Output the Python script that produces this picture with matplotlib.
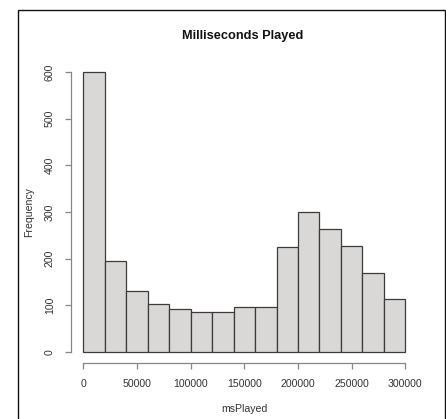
import matplotlib
matplotlib.use("Agg")
import matplotlib.pyplot as plt
from matplotlib.patches import Rectangle

# histogram of msPlayed, 20000 ms bins
bin_edges = [0, 20000, 40000, 60000, 80000, 100000, 120000, 140000, 160000,
             180000, 200000, 220000, 240000, 260000, 280000, 300000]
counts = [600, 195, 130, 102, 92, 85, 86, 97, 97, 225, 300, 263, 227, 170, 114]
x_ticks = [0, 50000, 100000, 150000, 200000, 250000, 300000]
y_ticks = [0, 100, 200, 300, 400, 500, 600]

plt.rcParams["font.family"] = ["Liberation Sans", "DejaVu Sans"]

W, H = 446, 419
fig = plt.figure(figsize=(W / 100, H / 100), dpi=100)

# plot region in pixels (R-like layout)
left, right, top, bottom = 70.5, 418.2, 60.8, 363.1
ax = fig.add_axes([left / W, 1 - bottom / H, (right - left) / W, (bottom - top) / H])

ax.hist(bin_edges[:-1], bins=bin_edges, weights=counts,
        facecolor="#d9d8d7", edgecolor="#3f3a3a", linewidth=0.9)

ax.set_xlim(-12000, 312000)
ax.set_ylim(-24, 624)

for s in ["top", "right"]:
    ax.spines[s].set_visible(False)
axis_col = "#8a8482"
ax.spines["left"].set_bounds(0, 600)
ax.spines["bottom"].set_bounds(0, 300000)
for s in ["left", "bottom"]:
    ax.spines[s].set_color(axis_col)
    ax.spines[s].set_linewidth(0.9)

ax.set_xticks(x_ticks)
ax.set_xticklabels([str(t) for t in x_ticks])
ax.set_yticks(y_ticks)
ax.set_yticklabels([str(t) for t in y_ticks], rotation=90, va="center")
ax.tick_params(direction="out", length=4.3, width=0.9, color=axis_col,
               labelsize=7.6, labelcolor="#333333", pad=7)

ax.set_xlabel("msPlayed", fontsize=7.6, color="#333333", labelpad=11)
ax.set_ylabel("Frequency", fontsize=7.6, color="#333333", labelpad=8)

fig.text(243 / W, 1 - 36 / H, "Milliseconds Played", ha="center", va="center",
         fontsize=9.2, fontweight="bold", color="#111111")

# screenshot frame
fig.patches.append(Rectangle((18 / W, -0.05), (445 - 18) / W, 1.05 - 10 / H,
                             transform=fig.transFigure, fill=False,
                             edgecolor="#111111", linewidth=1.0))

fig.savefig("out.png", dpi=100)
